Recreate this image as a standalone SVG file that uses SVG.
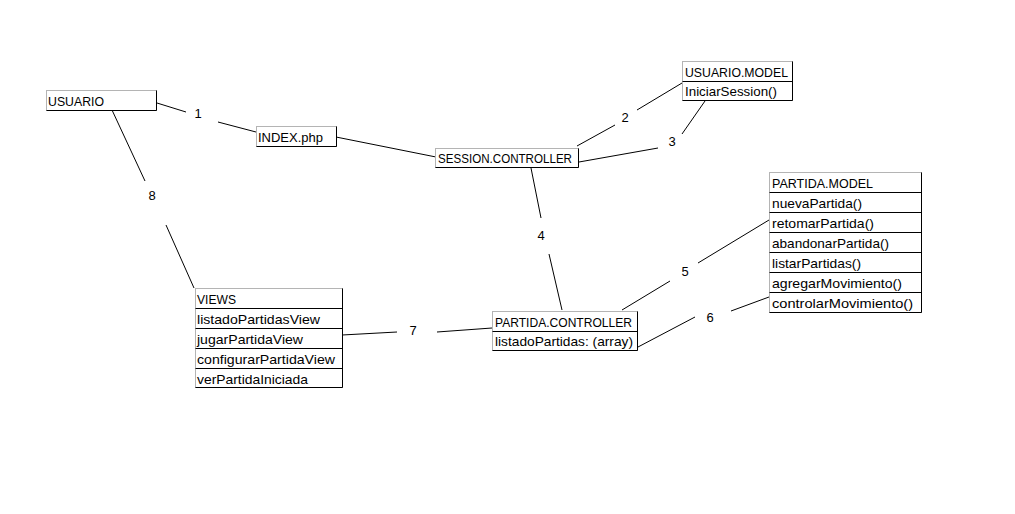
<svg xmlns="http://www.w3.org/2000/svg" width="1015" height="514" viewBox="0 0 1015 514">
<style>
.bg{fill:#ffffff}
.box{fill:#ffffff;stroke:#b4b4b4;stroke-width:1}
.dk{stroke:#000000;stroke-width:1;fill:none}
.t{font-family:"Liberation Sans",Arial,sans-serif;font-size:13px;fill:#000000}
.n{font-family:"Liberation Sans",Arial,sans-serif;font-size:13px;fill:#000000;text-anchor:middle}
.c{stroke:#000000;stroke-width:1;fill:none}
</style>
<rect class="bg" x="0" y="0" width="1015" height="514"/>
<g id="connectors">
  <line class="c" x1="157" y1="103" x2="186" y2="112"/>
  <line class="c" x1="218" y1="122" x2="256" y2="132"/>
  <line class="c" x1="336" y1="137" x2="436" y2="157"/>
  <line class="c" x1="112" y1="110" x2="145" y2="181"/>
  <line class="c" x1="166" y1="225" x2="194" y2="288"/>
  <line class="c" x1="577" y1="146" x2="615" y2="125"/>
  <line class="c" x1="637" y1="110" x2="682" y2="83"/>
  <line class="c" x1="579" y1="162" x2="658" y2="148"/>
  <line class="c" x1="682" y1="134" x2="705" y2="101"/>
  <line class="c" x1="531" y1="168" x2="541" y2="218"/>
  <line class="c" x1="549" y1="254" x2="562" y2="310"/>
  <line class="c" x1="622" y1="310" x2="670" y2="281"/>
  <line class="c" x1="698" y1="263" x2="769" y2="220"/>
  <line class="c" x1="638" y1="347" x2="695" y2="317"/>
  <line class="c" x1="731" y1="311" x2="769" y2="297"/>
  <line class="c" x1="342" y1="335" x2="397" y2="332"/>
  <line class="c" x1="437" y1="332" x2="492" y2="328"/>
  <text class="n" x="198" y="118">1</text>
  <text class="n" x="625" y="122">2</text>
  <text class="n" x="672" y="146">3</text>
  <text class="n" x="541" y="240">4</text>
  <text class="n" x="685" y="276">5</text>
  <text class="n" x="710" y="322">6</text>
  <text class="n" x="413" y="335">7</text>
  <text class="n" x="152" y="200">8</text>
</g>
<g id="usuario">
  <rect class="box" x="46.5" y="90.5" width="110" height="20"/>
  <polyline class="dk" points="156.5,90.5 156.5,110.5 46.5,110.5"/>
  <text class="t" x="48" y="106" textLength="56" lengthAdjust="spacingAndGlyphs">USUARIO</text>
</g>
<g id="index">
  <rect class="box" x="256.5" y="126.5" width="80" height="20"/>
  <polyline class="dk" points="336.5,126.5 336.5,146.5 256.5,146.5"/>
  <text class="t" x="258" y="142" textLength="65" lengthAdjust="spacingAndGlyphs">INDEX.php</text>
</g>
<g id="session-controller">
  <rect class="box" x="435.5" y="148.5" width="143" height="19"/>
  <polyline class="dk" points="578.5,148.5 578.5,167.5 435.5,167.5"/>
  <text class="t" x="438" y="163" textLength="134" lengthAdjust="spacingAndGlyphs">SESSION.CONTROLLER</text>
</g>
<g id="usuario-model">
  <rect class="box" x="682.5" y="61.5" width="110" height="39"/>
  <polyline class="dk" points="792.5,61.5 792.5,100.5 682.5,100.5"/>
  <line class="dk" x1="682.5" y1="81.5" x2="792.5" y2="81.5"/>
  <text class="t" x="685" y="77" textLength="103" lengthAdjust="spacingAndGlyphs">USUARIO.MODEL</text>
  <text class="t" x="685" y="96" textLength="92" lengthAdjust="spacingAndGlyphs">IniciarSession()</text>
</g>
<g id="partida-model">
  <rect class="box" x="769.5" y="172.5" width="152" height="140"/>
  <polyline class="dk" points="921.5,172.5 921.5,312.5 769.5,312.5"/>
  <line class="dk" x1="769.5" y1="192.5" x2="921.5" y2="192.5"/>
  <line class="dk" x1="769.5" y1="212.5" x2="921.5" y2="212.5"/>
  <line class="dk" x1="769.5" y1="232.5" x2="921.5" y2="232.5"/>
  <line class="dk" x1="769.5" y1="252.5" x2="921.5" y2="252.5"/>
  <line class="dk" x1="769.5" y1="272.5" x2="921.5" y2="272.5"/>
  <line class="dk" x1="769.5" y1="292.5" x2="921.5" y2="292.5"/>
  <text class="t" x="772" y="188" textLength="101" lengthAdjust="spacingAndGlyphs">PARTIDA.MODEL</text>
  <text class="t" x="772" y="208" textLength="90" lengthAdjust="spacingAndGlyphs">nuevaPartida()</text>
  <text class="t" x="772" y="228" textLength="102" lengthAdjust="spacingAndGlyphs">retomarPartida()</text>
  <text class="t" x="772" y="248" textLength="117" lengthAdjust="spacingAndGlyphs">abandonarPartida()</text>
  <text class="t" x="772" y="268" textLength="89" lengthAdjust="spacingAndGlyphs">listarPartidas()</text>
  <text class="t" x="772" y="288" textLength="130" lengthAdjust="spacingAndGlyphs">agregarMovimiento()</text>
  <text class="t" x="772" y="308" textLength="141" lengthAdjust="spacingAndGlyphs">controlarMovimiento()</text>
</g>
<g id="views">
  <rect class="box" x="195.5" y="288.5" width="147" height="99"/>
  <polyline class="dk" points="342.5,288.5 342.5,387.5 195.5,387.5"/>
  <line class="dk" x1="195.5" y1="308.5" x2="342.5" y2="308.5"/>
  <line class="dk" x1="195.5" y1="328.5" x2="342.5" y2="328.5"/>
  <line class="dk" x1="195.5" y1="348.5" x2="342.5" y2="348.5"/>
  <line class="dk" x1="195.5" y1="368.5" x2="342.5" y2="368.5"/>
  <text class="t" x="197" y="304" textLength="39" lengthAdjust="spacingAndGlyphs">VIEWS</text>
  <text class="t" x="197" y="324" textLength="123" lengthAdjust="spacingAndGlyphs">listadoPartidasView</text>
  <text class="t" x="197" y="344" textLength="106" lengthAdjust="spacingAndGlyphs">jugarPartidaView</text>
  <text class="t" x="197" y="364" textLength="138" lengthAdjust="spacingAndGlyphs">configurarPartidaView</text>
  <text class="t" x="197" y="384" textLength="111" lengthAdjust="spacingAndGlyphs">verPartidaIniciada</text>
</g>
<g id="partida-controller">
  <rect class="box" x="492.5" y="311.5" width="145" height="39"/>
  <polyline class="dk" points="637.5,311.5 637.5,350.5 492.5,350.5"/>
  <line class="dk" x1="492.5" y1="331.5" x2="637.5" y2="331.5"/>
  <text class="t" x="495" y="327" textLength="137" lengthAdjust="spacingAndGlyphs">PARTIDA.CONTROLLER</text>
  <text class="t" x="495" y="346" textLength="138" lengthAdjust="spacingAndGlyphs">listadoPartidas: (array)</text>
</g>
</svg>
